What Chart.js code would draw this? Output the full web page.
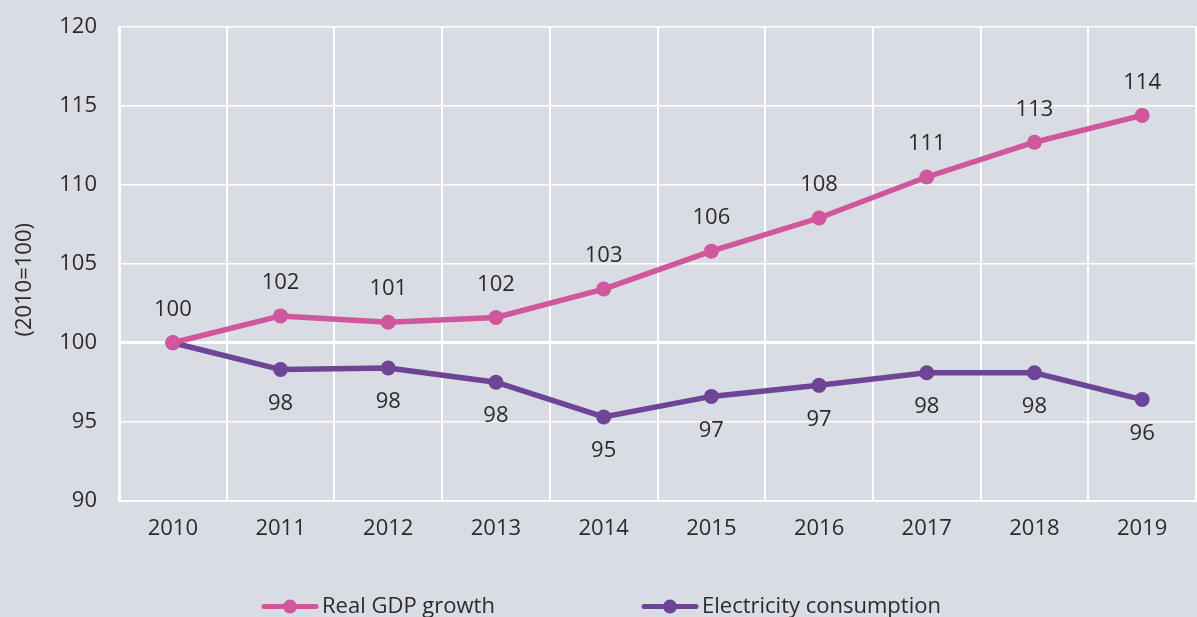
<!DOCTYPE html>
<html>
<head>
<meta charset="utf-8">
<script src="https://cdn.jsdelivr.net/npm/chart.js@4"></script>
<style>
  html, body { margin: 0; padding: 0; background: #d9dce3; }
  #wrap { width: 1197px; height: 617px; }
</style>
</head>
<body>
<div id="wrap"><canvas id="c" width="1197" height="617"></canvas></div>
<script>
const years = ['2010','2011','2012','2013','2014','2015','2016','2017','2018','2019'];
const gdpGrowth = [100, 101.7, 101.3, 101.6, 103.4, 105.8, 107.9, 110.5, 112.7, 114.4];
const electricity = [100, 98.3, 98.4, 97.5, 95.3, 96.6, 97.3, 98.1, 98.1, 96.4];
const seriesNames = ['Real GDP growth', 'Electricity consumption'];
const yTitle = '(2010=100)';

const PINK = '#d0569d';
const PURPLE = '#6e4596';
const TEXT = '#2b2b2b';
const FONT = '"Open Sans", Roboto, sans-serif';

const dataLabels = {
  id: 'dataLabels',
  afterDatasetsDraw(chart) {
    const ctx = chart.ctx;
    ctx.save();
    ctx.font = '22px ' + FONT;
    ctx.fillStyle = TEXT;
    ctx.textAlign = 'center';
    ctx.textBaseline = 'middle';
    chart.data.datasets.forEach((ds, i) => {
      const meta = chart.getDatasetMeta(i);
      const above = ds.labelPos === 'above';
      meta.data.forEach((pt, j) => {
        if (i === 1 && j === 0) return;
        const v = Math.round(ds.data[j]);
        ctx.fillText(String(v), pt.x, pt.y + (above ? -33 : 34));
      });
    });
    ctx.restore();
  }
};

const axisTitle = {
  id: 'axisTitle',
  afterDraw(chart) {
    const ctx = chart.ctx;
    const a = chart.chartArea;
    ctx.save();
    ctx.translate(25, (a.top + a.bottom) / 2 + 16);
    ctx.rotate(-Math.PI / 2);
    ctx.font = '22px ' + FONT;
    ctx.fillStyle = TEXT;
    ctx.textAlign = 'center';
    ctx.textBaseline = 'middle';
    ctx.fillText(yTitle, 0, 0);
    ctx.restore();
  }
};

const customLegend = {
  id: 'customLegend',
  afterDraw(chart) {
    const ctx = chart.ctx;
    const a = chart.chartArea;
    const y = a.bottom + 106;
    const starts = [a.left + 143, a.left + 523];
    ctx.save();
    chart.data.datasets.forEach((ds, i) => {
      const x0 = starts[i];
      ctx.strokeStyle = ds.borderColor;
      ctx.lineWidth = 5;
      ctx.lineCap = 'round';
      ctx.beginPath();
      ctx.moveTo(x0 + 2, y);
      ctx.lineTo(x0 + 54, y);
      ctx.stroke();
      ctx.fillStyle = ds.borderColor;
      ctx.beginPath();
      ctx.arc(x0 + 28, y, 7, 0, Math.PI * 2);
      ctx.fill();
      ctx.fillStyle = TEXT;
      ctx.font = '22px ' + FONT;
      ctx.textAlign = 'left';
      ctx.textBaseline = 'middle';
      ctx.fillText(ds.label, x0 + 60, y);
    });
    ctx.restore();
  }
};

new Chart(document.getElementById('c'), {
  type: 'line',
  data: {
    labels: years,
    datasets: [
      {
        label: seriesNames[0],
        data: gdpGrowth,
        borderColor: PINK,
        backgroundColor: PINK,
        borderWidth: 5.5,
        pointRadius: 7.5,
        pointHoverRadius: 7.5,
        pointBackgroundColor: PINK,
        pointBorderWidth: 0,
        tension: 0,
        labelPos: 'above'
      },
      {
        label: seriesNames[1],
        data: electricity,
        borderColor: PURPLE,
        backgroundColor: PURPLE,
        borderWidth: 5.5,
        pointRadius: 7.5,
        pointHoverRadius: 7.5,
        pointBackgroundColor: PURPLE,
        pointBorderWidth: 0,
        tension: 0,
        labelPos: 'below'
      }
    ]
  },
  options: {
    responsive: false,
    animation: false,
    events: [],
    layout: { autoPadding: false, padding: { top: 27, right: 1, bottom: 60, left: 0 } },
    plugins: {
      legend: { display: false },
      tooltip: { enabled: false }
    },
    scales: {
      x: {
        offset: true,
        afterFit(scale) { scale.paddingLeft = 0; scale.paddingRight = 0; },
        grid: { color: '#ffffff', lineWidth: 2, drawTicks: false, offset: true },
        border: { display: true, color: '#ffffff', width: 2 },
        ticks: { color: TEXT, font: { size: 22, family: FONT }, padding: 15, maxRotation: 0 }
      },
      y: {
        min: 90,
        max: 120,
        afterFit(scale) { scale.width = 119; scale.paddingTop = 0; scale.paddingBottom = 0; },
        grid: {
          color: '#ffffff',
          lineWidth: (c) => (c.tick && c.tick.value === 100 ? 3 : 1.5),
          drawTicks: false
        },
        border: { display: true, color: '#ffffff', width: 3 },
        ticks: { stepSize: 5, color: TEXT, font: { size: 22, family: FONT }, padding: 22 },
        title: { display: false }
      }
    }
  },
  plugins: [dataLabels, axisTitle, customLegend]
});
</script>
</body>
</html>
